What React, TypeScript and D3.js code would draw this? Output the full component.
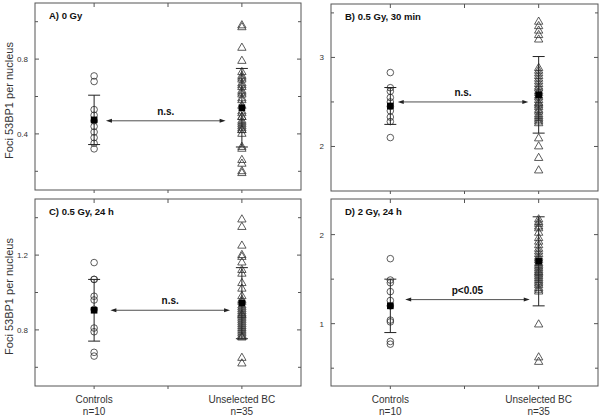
import React from "react";
import * as d3 from "d3";

// ---- data ----
const groups = ["Controls", "Unselected BC"];
const groupN = ["n=10", "n=35"];
const panelTitles = ["A) 0 Gy", "B) 0.5 Gy, 30 min", "C) 0.5 Gy, 24 h", "D) 2 Gy, 24 h"];
const yAxisLabel = "Foci 53BP1 per nucleus";

const controlsA = [0.71, 0.68, 0.53, 0.5, 0.47, 0.44, 0.41, 0.38, 0.35, 0.32];
const bcA = [0.98, 0.97, 0.86, 0.79, 0.73, 0.71, 0.7, 0.69, 0.67, 0.66, 0.65, 0.63, 0.62, 0.61, 0.59, 0.58, 0.55, 0.52, 0.51, 0.49, 0.49, 0.47, 0.46, 0.45, 0.44, 0.43, 0.42, 0.42, 0.4, 0.33, 0.32, 0.26, 0.24, 0.2, 0.19];

const controlsB = [2.83, 2.66, 2.62, 2.55, 2.5, 2.45, 2.4, 2.33, 2.28, 2.1];
const bcB = [3.4, 3.35, 3.3, 3.25, 3.2, 2.88, 2.85, 2.82, 2.79, 2.76, 2.73, 2.7, 2.67, 2.65, 2.62, 2.6, 2.57, 2.55, 2.52, 2.49, 2.46, 2.44, 2.41, 2.39, 2.36, 2.34, 2.32, 2.3, 2.28, 2.26, 2.09, 2.0, 1.87, 1.73, 2.48];

const controlsC = [1.16, 1.07, 1.07, 0.98, 0.96, 0.91, 0.81, 0.79, 0.68, 0.66];
const bcC = [1.39, 1.35, 1.25, 1.2, 1.19, 1.16, 1.12, 1.1, 1.05, 1.02, 0.98, 0.96, 0.95, 0.93, 0.92, 0.91, 0.9, 0.89, 0.88, 0.88, 0.87, 0.86, 0.85, 0.84, 0.83, 0.82, 0.81, 0.8, 0.79, 0.78, 0.77, 0.76, 0.76, 0.65, 0.62];

const controlsD = [1.73, 1.49, 1.46, 1.36, 1.26, 1.2, 1.04, 1.02, 0.8, 0.77];
const bcD = [2.17, 2.14, 2.12, 2.09, 2.07, 2.02, 1.96, 1.92, 1.88, 1.84, 1.81, 1.78, 1.75, 1.73, 1.71, 1.68, 1.66, 1.64, 1.62, 1.6, 1.58, 1.57, 1.55, 1.53, 1.51, 1.49, 1.47, 1.45, 1.43, 1.4, 1.38, 1.36, 0.99, 0.62, 0.57];

const means = [[0.475, 0.54], [2.455, 2.58], [0.905, 0.943], [1.2, 1.7]];
const sds = [[0.132, 0.21], [0.207, 0.43], [0.165, 0.19], [0.3, 0.5]];

const yDomains = [[0.1, 1.1], [1.5, 3.6], [0.5, 1.5], [0.3, 2.4]];
const yMajorTicks = [[0.4, 0.8], [2, 3], [0.8, 1.2], [1, 2]];
const yMinorTicks = [[0.2, 0.6, 1.0], [2.5, 3.5], [0.6, 1.0, 1.4], [0.5, 1.5]];
const xMajorTicks = [1, 1.5, 2];

const sigLabels = ["n.s.", "n.s.", "n.s.", "p<0.05"];
const arrowLevels = [0.47, 2.5, 0.905, 1.27];
const arrowFrom = [1.08, 1.05, 1.11, 1.1];
const arrowTo = [1.89, 1.93, 1.92, 1.94];

const panelData = [[controlsA, bcA], [controlsB, bcB], [controlsC, bcC], [controlsD, bcD]];

// ---- layout ----
const W = 600;
const H = 419;
const panelRects = [
  { x: 35, y: 3, w: 266, h: 187 },
  { x: 331, y: 4, w: 267, h: 187 },
  { x: 35, y: 199, w: 266, h: 187 },
  { x: 331, y: 199, w: 267, h: 187 },
];
const FONT = "'Liberation Sans', Arial, Helvetica, sans-serif";
const INK = "#333";
const FRAME = "#555";

function Panel({ idx }: { idx: number }) {
  const r = panelRects[idx];
  const x = d3.scaleLinear().domain([0.6, 2.4]).range([r.x, r.x + r.w]);
  const y = d3.scaleLinear().domain(yDomains[idx]).range([r.y + r.h, r.y]);
  const [ctrl, bc] = panelData[idx];
  const tri = d3.symbol().type(d3.symbolTriangle).size(30)();
  const fmt = (v: number) => String(v);
  const arrowY = y(arrowLevels[idx]);
  const ax1 = x(arrowFrom[idx]);
  const ax2 = x(arrowTo[idx]);
  const isBottom = idx >= 2;
  const isLeft = idx % 2 === 0;
  return (
    <g>
      <rect x={r.x} y={r.y} width={r.w} height={r.h} fill="none" stroke={FRAME} strokeWidth={1} />
      {yMajorTicks[idx].map((t) => (
        <g key={"ym" + t}>
          <line x1={r.x} x2={r.x + 4} y1={y(t)} y2={y(t)} stroke={FRAME} />
          <line x1={r.x + r.w} x2={r.x + r.w - 4} y1={y(t)} y2={y(t)} stroke={FRAME} />
          <text x={r.x - 7} y={y(t) + 3} fontSize={8} textAnchor="end" fill={INK} fontFamily={FONT}>
            {fmt(t)}
          </text>
        </g>
      ))}
      {yMinorTicks[idx].map((t) => (
        <g key={"yn" + t}>
          <line x1={r.x} x2={r.x + 3} y1={y(t)} y2={y(t)} stroke={FRAME} />
          <line x1={r.x + r.w} x2={r.x + r.w - 3} y1={y(t)} y2={y(t)} stroke={FRAME} />
        </g>
      ))}
      {xMajorTicks.map((t) => (
        <g key={"xt" + t}>
          <line x1={x(t)} x2={x(t)} y1={r.y} y2={r.y + 4} stroke={FRAME} />
          <line x1={x(t)} x2={x(t)} y1={r.y + r.h} y2={r.y + r.h + 3} stroke={FRAME} />
        </g>
      ))}
      <text x={r.x + 14} y={r.y + 16} fontSize={9.5} fontWeight="bold" fill="#111" fontFamily={FONT}>
        {panelTitles[idx]}
      </text>
      {ctrl.map((v, i) => (
        <circle key={"c" + i} cx={x(1)} cy={y(v)} r={3.3} fill="none" stroke={INK} strokeWidth={0.8} />
      ))}
      {bc.map((v, i) => (
        <path key={"t" + i} d={tri || ""} transform={`translate(${x(2)},${y(v)})`} fill="none" stroke={INK} strokeWidth={0.8} />
      ))}
      {[1, 2].map((g, gi) => {
        const m = means[idx][gi];
        const s = sds[idx][gi];
        const cx = x(g);
        return (
          <g key={"m" + g}>
            <line x1={cx} x2={cx} y1={y(m - s)} y2={y(m + s)} stroke="#222" strokeWidth={1} />
            <line x1={cx - 6} x2={cx + 6} y1={y(m + s)} y2={y(m + s)} stroke="#222" strokeWidth={1} />
            <line x1={cx - 6} x2={cx + 6} y1={y(m - s)} y2={y(m - s)} stroke="#222" strokeWidth={1} />
            <rect x={cx - 3.3} y={y(m) - 3.3} width={6.6} height={6.6} fill="#000" />
          </g>
        );
      })}
      <line x1={ax1 + 4} x2={ax2 - 4} y1={arrowY} y2={arrowY} stroke="#222" strokeWidth={0.8} />
      <path d={`M${ax1},${arrowY} L${ax1 + 6},${arrowY - 2} L${ax1 + 6},${arrowY + 2} Z`} fill="#222" />
      <path d={`M${ax2},${arrowY} L${ax2 - 6},${arrowY - 2} L${ax2 - 6},${arrowY + 2} Z`} fill="#222" />
      <text x={(ax1 + ax2) / 2} y={arrowY - 6} fontSize={10} fontWeight="bold" textAnchor="middle" fill="#111" fontFamily={FONT}>
        {sigLabels[idx]}
      </text>
      {isBottom &&
        groups.map((g, gi) => (
          <g key={"xl" + gi}>
            <text x={x(gi + 1)} y={r.y + r.h + 17} fontSize={10} textAnchor="middle" fill={INK} fontFamily={FONT}>
              {g}
            </text>
            <text x={x(gi + 1)} y={r.y + r.h + 29} fontSize={10} textAnchor="middle" fill={INK} fontFamily={FONT}>
              {groupN[gi]}
            </text>
          </g>
        ))}
      {isLeft && (
        <text
          transform={`translate(13,${r.y + r.h / 2 + 4}) rotate(-90)`}
          fontSize={11}
          textAnchor="middle"
          fill={INK}
          fontFamily={FONT}
        >
          {yAxisLabel}
        </text>
      )}
    </g>
  );
}

export default function App() {
  return (
    <svg
      width={W}
      height={H}
      viewBox={`0 0 ${W} ${H}`}
      style={{ position: "absolute", left: 0, top: 0, background: "#fff" }}
    >
      <rect x={0} y={0} width={W} height={H} fill="#fff" />
      {panelRects.map((_, i) => (
        <Panel key={i} idx={i} />
      ))}
    </svg>
  );
}
